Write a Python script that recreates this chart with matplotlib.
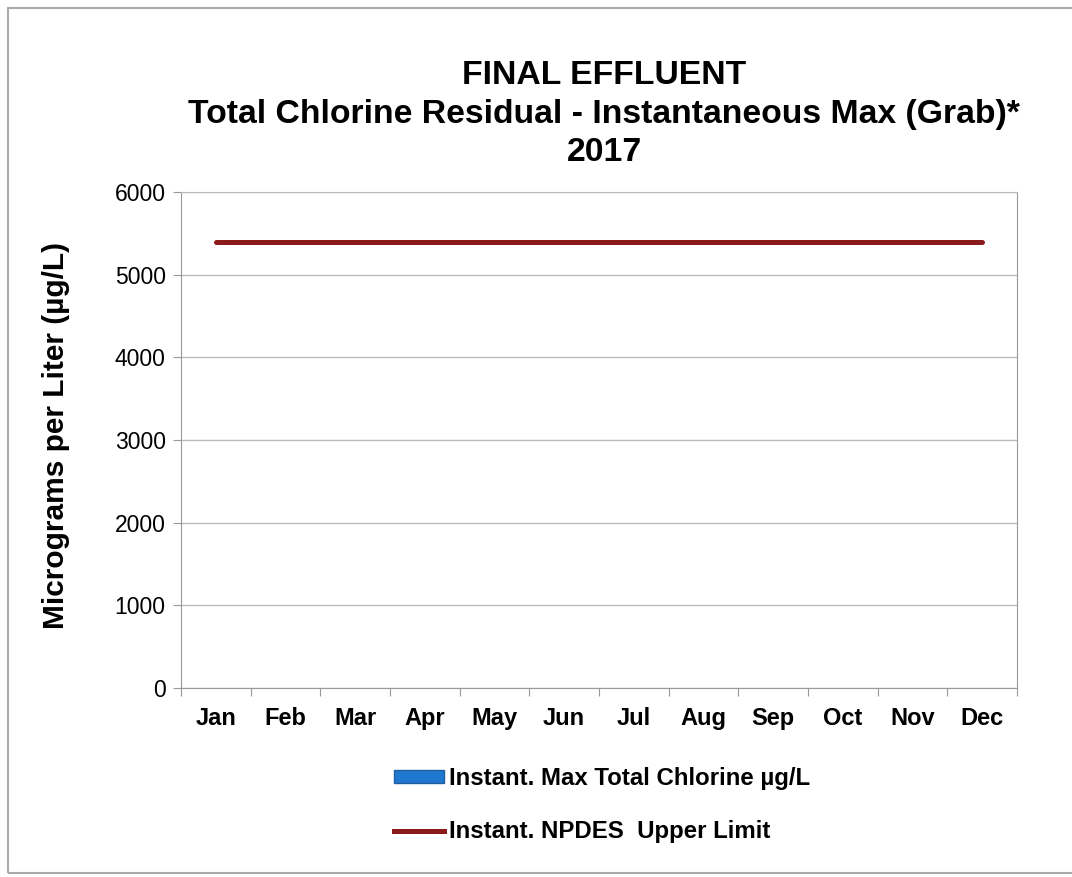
import matplotlib
matplotlib.use("Agg")
from matplotlib import pyplot as plt
from matplotlib.patches import Rectangle, Patch
from matplotlib.lines import Line2D
import numpy as np

plt.rcParams['font.family'] = ['Liberation Sans', 'DejaVu Sans']

meses = ["Jan", "Feb", "Mar", "Apr", "May", "Jun", "Jul", "Aug", "Sep", "Oct", "Nov", "Dec"]
cloro_max = [0, 0, 0, 0, 0, 0, 0, 0, 0, 0, 0, 0]
limite_npdes = [5400, 5400, 5400, 5400, 5400, 5400, 5400, 5400, 5400, 5400, 5400, 5400]

fig = plt.figure(figsize=(10.72, 8.77), dpi=100)
ax = fig.add_axes([181/1072, 1 - 688/877, (1017-181)/1072, (688-192)/877])

x = np.arange(len(meses))
ax.bar(x, cloro_max, width=0.5, color="#1f77d0")
ax.plot(x, limite_npdes, color="#8b1a1a", linewidth=3.6, solid_capstyle="round")

ax.set_xlim(-0.5, len(meses) - 0.5)
ax.set_ylim(0, 6000)
ax.set_yticks(range(0, 6001, 1000))
ax.set_yticklabels([str(v) for v in range(0, 6001, 1000)], fontsize=16.5)
ax.yaxis.grid(True, color="#bbbbbb", linewidth=1)
ax.set_axisbelow(True)

# ticks entre categorias, etiquetas al centro
ax.set_xticks(np.arange(-0.5, len(meses), 1))
ax.set_xticklabels([])
ax.set_xticks(x, minor=True)
ax.set_xticklabels(meses, minor=True, fontsize=17, fontweight="bold")
ax.tick_params(axis="x", which="minor", length=0, pad=14)
ax.tick_params(axis="x", which="major", length=6, color="#999999", direction="out")
ax.tick_params(axis="y", length=6, color="#999999", pad=5)

for s in ax.spines.values():
    s.set_color("#999999")
ax.spines["top"].set_color("#bbbbbb")

ax.set_ylabel("Micrograms per Liter (\u00b5g/L)", fontsize=21.5, fontweight="bold")
ax.yaxis.set_label_coords(-(181 - 70) / (1017 - 181), 0.51)

titulo = "FINAL EFFLUENT\nTotal Chlorine Residual - Instantaneous Max (Grab)*\n2017"
fig.text(604/1072, 1 - 114/877, titulo, ha="center", va="center", fontsize=24.3,
         fontweight="bold", linespacing=1.3)

handles = [Patch(facecolor="#1f77d0", edgecolor="#1f5fa0"),
           Line2D([0], [0], color="#8b1a1a", linewidth=3.6)]
etiquetas = ["Instant. Max Total Chlorine \u00b5g/L", "Instant. NPDES  Upper Limit"]
leg = fig.legend(handles, etiquetas, loc="center left", bbox_to_anchor=(372/1072, 1 - 805/877),
                 frameon=False, prop={"weight": "bold", "size": 17.3}, labelspacing=1.25,
                 handlelength=2.1, handleheight=0.45, handletextpad=0.2)

fig.patches.append(Rectangle((8/1072, 0.004), 1.2, 1 - 8/877 - 0.004, transform=fig.transFigure,
                             fill=False, edgecolor="#aaaaaa", linewidth=1.5))

plt.savefig("out.png")
plt.close()
